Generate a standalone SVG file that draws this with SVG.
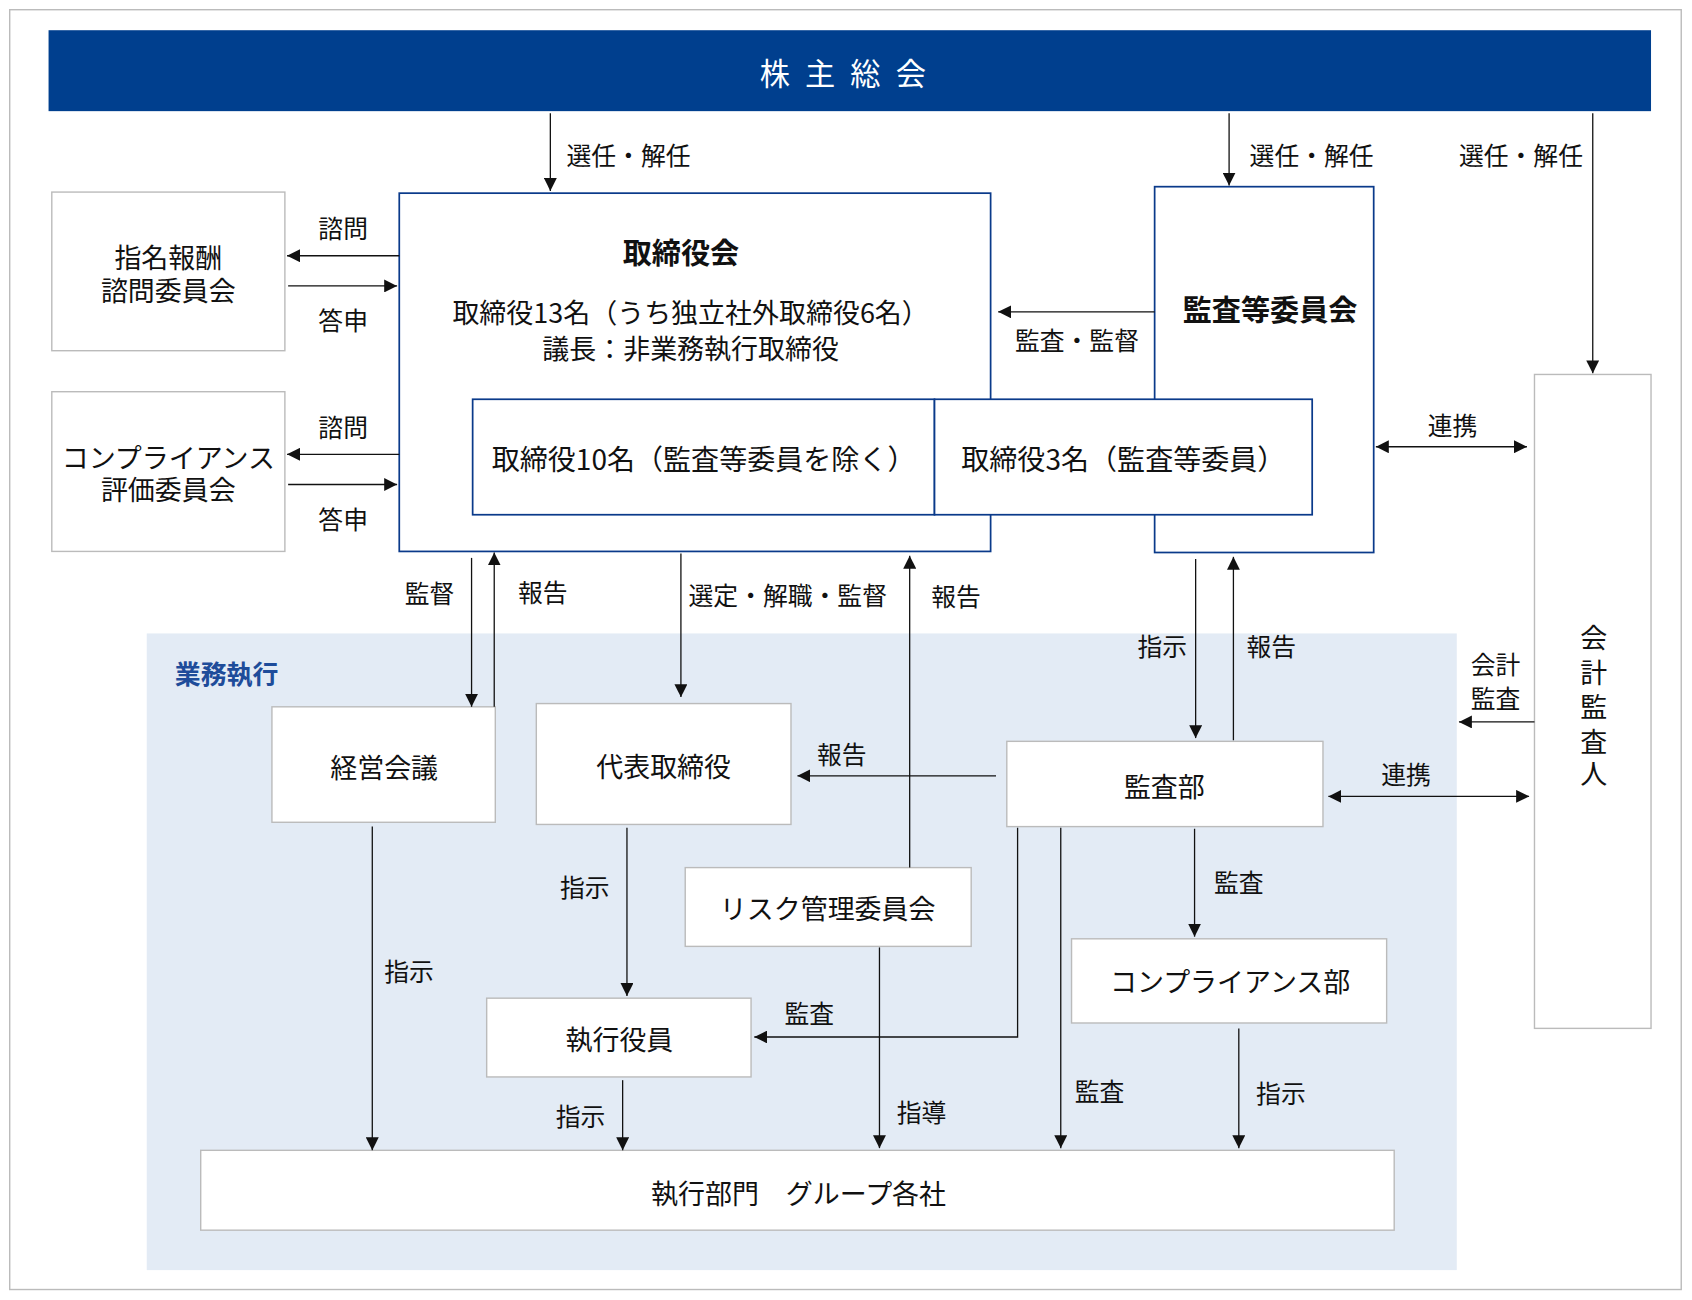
<svg xmlns="http://www.w3.org/2000/svg" width="1692" height="1300" viewBox="0 0 1692 1300">
<style>
text{font-family:"Noto Sans CJK JP","Noto Sans",sans-serif;fill:#111;dominant-baseline:central}
.c{text-anchor:middle}
.m{font-size:25px}
.l{font-size:23px}
.b{font-weight:bold;font-size:27px}
.gb{fill:#fff;stroke:#bbb;stroke-width:1.3}
.bb{fill:#fff;stroke:#0a3a8a;stroke-width:1.6}
.ln{stroke:#111;stroke-width:1.2;fill:none}
</style>
<defs>
<marker id="a" viewBox="0 0 10 10" refX="10" refY="5" markerWidth="12" markerHeight="12" markerUnits="userSpaceOnUse" orient="auto-start-reverse"><path d="M0,0L10,5L0,10z" fill="#111"/></marker>
</defs>
<rect width="1692" height="1300" fill="#fff"/>
<g transform="scale(1.0791)">
<rect x="9" y="9" width="1549" height="1186" fill="none" stroke="#bbb" stroke-width="1.3"/>
<rect x="136" y="587" width="1214" height="590" fill="#e3ebf5"/>
<text x="162" y="623" style="font-size:24px;font-weight:bold;fill:#1e4c9a">業務執行</text>
<g id="shareholders"><rect x="45" y="28" width="1485" height="75" fill="#003f8e"/><text x="788" y="67" class="c" style="fill:#fff;font-size:28px;letter-spacing:14px">株主総会</text></g>
<g id="board"><rect class="bb" x="370" y="179" width="548" height="332"/>
<text x="631" y="233" class="c b">取締役会</text>
<text x="640" y="289" class="c m">取締役13名（うち独立社外取締役6名）</text>
<text x="640" y="322" class="c m">議長：非業務執行取締役</text></g>
<g id="auditcomm"><rect class="bb" x="1070" y="173" width="203" height="339"/><text x="1177" y="285" class="c b">監査等委員会</text></g>
<g id="dir10"><rect class="bb" x="438" y="370" width="428" height="107"/><text x="652" y="424" class="c" style="font-size:26px">取締役10名（監査等委員を除く）</text></g>
<g id="dir3"><rect class="bb" x="866" y="370" width="350" height="107"/><text x="1041" y="424" class="c" style="font-size:26px">取締役3名（監査等委員）</text></g>
<g id="nomination"><rect class="gb" x="48" y="178" width="216" height="147"/><text x="156" y="238" class="c m">指名報酬</text><text x="156" y="268" class="c m">諮問委員会</text></g>
<g id="compeval"><rect class="gb" x="48" y="363" width="216" height="148"/><text x="156" y="423" class="c m">コンプライアンス</text><text x="156" y="453" class="c m">評価委員会</text></g>
<g id="accountant"><rect class="gb" x="1422" y="347" width="108" height="606"/>
<text x="1477" y="590" class="c m">会</text><text x="1477" y="622" class="c m">計</text><text x="1477" y="654" class="c m">監</text><text x="1477" y="686" class="c m">査</text><text x="1477" y="716" class="c m">人</text></g>
<g id="mgmt"><rect class="gb" x="252" y="655" width="207" height="107"/><text x="356" y="710" class="c m">経営会議</text></g>
<g id="ceo"><rect class="gb" x="497" y="652" width="236" height="112"/><text x="615" y="709" class="c m">代表取締役</text></g>
<g id="auditdept"><rect class="gb" x="933" y="687" width="293" height="79"/><text x="1079" y="728" class="c m">監査部</text></g>
<g id="risk"><rect class="gb" x="635" y="804" width="265" height="73"/><text x="767" y="841" class="c m">リスク管理委員会</text></g>
<g id="compdept"><rect class="gb" x="993" y="870" width="292" height="78"/><text x="1140" y="909" class="c m">コンプライアンス部</text></g>
<g id="officers"><rect class="gb" x="451" y="925" width="245" height="73"/><text x="574" y="962" class="c m">執行役員</text></g>
<g id="exec"><rect class="gb" x="186" y="1066" width="1106" height="74"/><text x="740" y="1105" class="c m">執行部門　グループ各社</text></g>
<g id="connectors">
<path class="ln" marker-end="url(#a)" d="M370,237H266"/>
<path class="ln" marker-end="url(#a)" d="M267,265H368"/>
<path class="ln" marker-end="url(#a)" d="M370,421H266"/>
<path class="ln" marker-end="url(#a)" d="M267,449H368"/>
<path class="ln" marker-end="url(#a)" d="M510,105V177"/>
<path class="ln" marker-end="url(#a)" d="M1139,105V172"/>
<path class="ln" marker-end="url(#a)" d="M1476,105V346"/>
<path class="ln" marker-end="url(#a)" d="M1070,289H925"/>
<path class="ln" marker-start="url(#a)" marker-end="url(#a)" d="M1275,414H1415"/>
<path class="ln" marker-end="url(#a)" d="M437,517V655"/>
<path class="ln" marker-end="url(#a)" d="M458,655V512"/>
<path class="ln" marker-end="url(#a)" d="M631,513V646"/>
<path class="ln" marker-end="url(#a)" d="M843,804V515"/>
<path class="ln" marker-end="url(#a)" d="M1108,518V684"/>
<path class="ln" marker-end="url(#a)" d="M1143,686V516"/>
<path class="ln" marker-end="url(#a)" d="M1422,669H1352"/>
<path class="ln" marker-end="url(#a)" d="M923,719H739"/>
<path class="ln" marker-start="url(#a)" marker-end="url(#a)" d="M1231,738H1417"/>
<path class="ln" marker-end="url(#a)" d="M1107,768V868"/>
<path class="ln" marker-end="url(#a)" d="M581,767V923"/>
<path class="ln" marker-end="url(#a)" d="M345,766V1066"/>
<path class="ln" marker-end="url(#a)" d="M943,767V961H699"/>
<path class="ln" marker-end="url(#a)" d="M983,767V1064"/>
<path class="ln" marker-end="url(#a)" d="M1148,953V1064"/>
<path class="ln" marker-end="url(#a)" d="M815,878V1064"/>
<path class="ln" marker-end="url(#a)" d="M577,1001V1066"/>
</g>
<g id="labels">
<text x="318" y="210" class="c l">諮問</text><text x="318" y="296" class="c l">答申</text>
<text x="318" y="395" class="c l">諮問</text><text x="318" y="480" class="c l">答申</text>
<text x="525" y="143" class="l">選任・解任</text><text x="1158" y="143" class="l">選任・解任</text><text x="1352" y="143" class="l">選任・解任</text>
<text x="998" y="314" class="c l">監査・監督</text>
<text x="1346" y="393" class="c l">連携</text>
<text x="398" y="549" class="c l">監督</text><text x="503" y="548" class="c l">報告</text>
<text x="730" y="550" class="c l">選定・解職・監督</text><text x="886" y="551" class="c l">報告</text>
<text x="1077" y="598" class="c l">指示</text><text x="1178" y="598" class="c l">報告</text>
<text x="1386" y="614" class="c l">会計</text><text x="1386" y="646" class="c l">監査</text>
<text x="780" y="698" class="c l">報告</text><text x="1303" y="716" class="c l">連携</text>
<text x="1148" y="816" class="c l">監査</text><text x="542" y="821" class="c l">指示</text>
<text x="379" y="899" class="c l">指示</text><text x="750" y="938" class="c l">監査</text>
<text x="1019" y="1010" class="c l">監査</text><text x="1187" y="1012" class="c l">指示</text>
<text x="854" y="1030" class="c l">指導</text><text x="538" y="1033" class="c l">指示</text>
</g>
</g>
</svg>
